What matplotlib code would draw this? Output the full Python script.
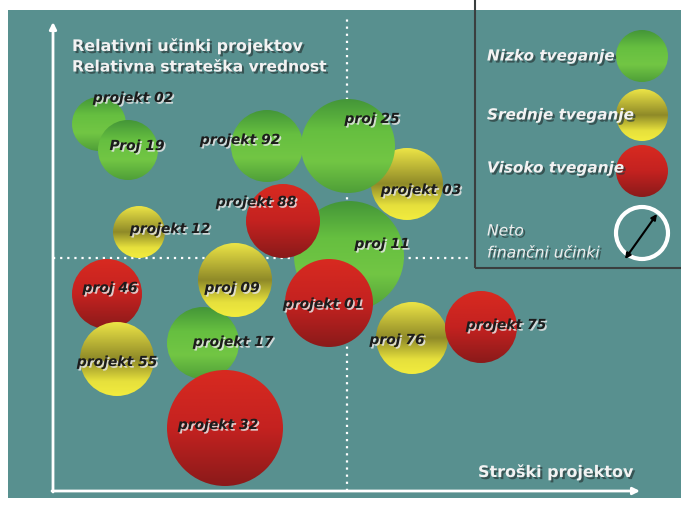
import numpy as np
import matplotlib
matplotlib.use("Agg")
import matplotlib.pyplot as plt
import matplotlib.patheffects as pe
from matplotlib.patches import Circle, Rectangle
from matplotlib.colors import LinearSegmentedColormap

# bubble data: cost (x), strategic value (y), net financial effect (radius), risk class
names = ["projekt 02", "Proj 19", "projekt 92", "projekt 03", "proj 25", "projekt 12",
         "proj 11", "projekt 88", "proj 46", "projekt 55", "projekt 17", "proj 09",
         "projekt 01", "projekt 32", "proj 76", "projekt 75"]
cost = [46, 75, 214, 354, 295, 86, 296, 230, 54, 64, 150, 182, 276, 172, 359, 428]
value = [367, 341, 345, 307, 345, 259, 235, 270, 197, 132, 148, 211, 188, 63, 153, 164]
finance = [27, 30, 36, 36, 47, 26, 55, 37, 35, 37, 36, 37, 44, 58, 36, 36]
risk = ["low", "low", "low", "mid", "low", "mid", "low", "high", "high", "mid",
        "low", "mid", "high", "high", "mid", "high"]

# label placement relative to bubble centre
label_dx = [34, 9, -27, 14, 24, 31, 33, -27, 3, 0, 30, -3, -6, -7, -15, 25]
label_dy = [26, 4, 6, -6, 27, 3, 12, 19, 6, -3, 1, -8, -1, 3, -2, 2]

legend_labels = ["Nizko tveganje", "Srednje tveganje", "Visoko tveganje"]
legend_risk = ["low", "mid", "high"]

teal = "#58908f"
cmaps = {
    "low": LinearSegmentedColormap.from_list("g", ["#449638", "#66bf40", "#72c644", "#4f9f38"]),
    "mid": LinearSegmentedColormap.from_list("y", [(0, "#ece446"), (0.5, "#8f8a28"),
                                                   (0.8, "#e6e03c"), (1, "#f2ec3e")]),
    "high": LinearSegmentedColormap.from_list("r", ["#d82a20", "#c42220", "#8a1a1a"]),
}
grad = np.linspace(0, 1, 200).reshape(-1, 1)

fig = plt.figure(figsize=(6.81, 5.05), dpi=100, facecolor="white")
ax = fig.add_axes([0, 0, 1, 1])
ax.set_xlim(-53, 628)
ax.set_ylim(-14, 491)
ax.axis("off")


def bubble(x, y, r, kind, z):
    c = Circle((x, y), r, facecolor="none", edgecolor="none", zorder=z)
    ax.add_patch(c)
    im = ax.imshow(grad, cmap=cmaps[kind], extent=[x - r, x + r, y - r, y + r],
                   origin="upper", aspect="auto", zorder=z, interpolation="bilinear")
    im.set_clip_path(c)


ax.add_patch(Rectangle((-45, -7), 673, 488, facecolor=teal, edgecolor="none", zorder=0))

# quadrant dividers
ax.plot([294, 294], [0, 473], color="white", lw=1.6, ls=(0, (1, 2.2)), zorder=1)
ax.plot([0, 417], [233, 233], color="white", lw=1.6, ls=(0, (1, 2.2)), zorder=1)

# axes arrows
arrow = dict(arrowstyle="-|>", color="white", lw=2, mutation_scale=10, shrinkA=0, shrinkB=0)
ax.annotate("", xy=(0, 469), xytext=(0, -1), arrowprops=arrow, zorder=2)
ax.annotate("", xy=(587, 0), xytext=(-1, 0), arrowprops=arrow, zorder=2)

light_shadow = [pe.withSimplePatchShadow(offset=(1.2, -1.2), shadow_rgbFace="#e6e6e6", alpha=0.85)]
dark_shadow = [pe.withSimplePatchShadow(offset=(1.5, -1.5), shadow_rgbFace="#2a3a3a", alpha=0.7)]

for i, name in enumerate(names):
    bubble(cost[i], value[i], finance[i], risk[i], 3 + i)
for i, name in enumerate(names):
    ax.text(cost[i] + label_dx[i], value[i] + label_dy[i], name, ha="center", va="center",
            family="DejaVu Sans", weight="bold", style="italic", fontsize=10,
            color="#1c1c1c", path_effects=light_shadow, zorder=30)

tkw = dict(family="DejaVu Sans", weight="bold", color="#f2f2f2", path_effects=dark_shadow, zorder=30)
ax.text(19, 445, "Relativni učinki projektov", ha="left", va="center", fontsize=11.5, **tkw)
ax.text(19, 424, "Relativna strateška vrednost", ha="left", va="center", fontsize=11.2, **tkw)
ax.text(425, 19, "Stroški projektov", ha="left", va="center", fontsize=11.5, **tkw)

# legend panel
ax.add_patch(Rectangle((422, 223), 240, 300, facecolor="none", edgecolor="#3a3f3f", lw=1.5, zorder=2))
for label, kind, ly in zip(legend_labels, legend_risk, [435, 376, 320]):
    bubble(589, ly, 26, kind, 5)
    ax.text(434, ly + (3 if kind == "high" else 0), label, ha="left", va="center", fontsize=11,
            style="italic", **tkw)
ax.text(434, 260, "Neto", ha="left", va="center", fontsize=11.2, style="italic",
        family="DejaVu Sans", color="#eeeeee", path_effects=dark_shadow, zorder=30)
ax.text(434, 238, "finančni učinki", ha="left", va="center", fontsize=11.2, style="italic",
        family="DejaVu Sans", color="#eeeeee", path_effects=dark_shadow, zorder=30)
ax.add_patch(Circle((589, 258), 26, facecolor="none", edgecolor="white", lw=3, zorder=6))
ax.annotate("", xy=(604, 277), xytext=(572, 232),
            arrowprops=dict(arrowstyle="<|-|>", color="black", lw=1.5, mutation_scale=8,
                            shrinkA=0, shrinkB=0), zorder=7)

ax.set_xlim(-53, 628)
ax.set_ylim(-14, 491)
fig.savefig("out.png", dpi=100, facecolor="white")
